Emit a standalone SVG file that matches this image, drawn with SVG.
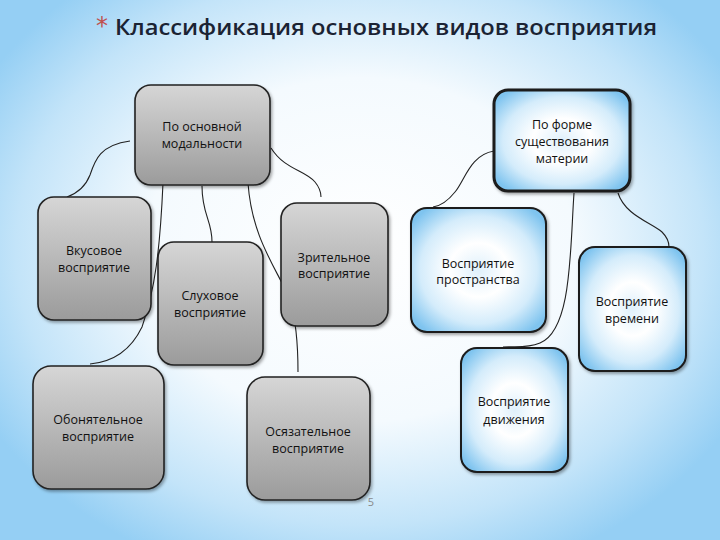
<svg xmlns="http://www.w3.org/2000/svg" width="720" height="540" viewBox="0 0 720 540">
<defs>
<radialGradient id="bg" cx="360" cy="250" r="430" gradientUnits="userSpaceOnUse" gradientTransform="translate(360 250) scale(1 0.8) translate(-360 -250)">
<stop offset="0" stop-color="#ffffff"/>
<stop offset="0.5" stop-color="#f4fafe"/>
<stop offset="0.8" stop-color="#c3e4f9"/>
<stop offset="1" stop-color="#95cff4"/>
</radialGradient>
<linearGradient id="gray" x1="0" y1="0" x2="0" y2="1">
<stop offset="0" stop-color="#d6d6d6"/>
<stop offset="1" stop-color="#9b9b9b"/>
</linearGradient>
<radialGradient id="blue" cx="0.5" cy="0.5" r="0.62">
<stop offset="0" stop-color="#dff0fb"/>
<stop offset="0.35" stop-color="#ffffff"/>
<stop offset="0.7" stop-color="#d4ecfb"/>
<stop offset="1" stop-color="#7fc4ef"/>
</radialGradient>
<filter id="sh" x="-10%" y="-10%" width="130%" height="130%">
<feDropShadow dx="1.5" dy="2" stdDeviation="1.5" flood-color="#000" flood-opacity="0.35"/>
</filter>
</defs>
<style>
.g{fill:url(#gray);stroke:#222;stroke-width:1.6;filter:url(#sh)}
.b{fill:url(#blue);stroke:#1a1a1a;stroke-width:2;filter:url(#sh)}
.t{font-family:"Open Sans","DejaVu Sans",sans-serif;font-size:12.5px;fill:#111;text-anchor:middle}
.c{fill:none;stroke:#222;stroke-width:1.1}
</style>
<rect x="0" y="0" width="720" height="540" fill="url(#bg)"/>
<text x="96" y="34" font-family="'DejaVu Sans',sans-serif" font-size="24" fill="#c0504d">*</text>
<text x="115" y="35" font-family="'Open Sans','DejaVu Sans',sans-serif" font-size="22" font-weight="600" fill="#1b2333" textLength="542" lengthAdjust="spacingAndGlyphs">Классификация основных видов восприятия</text>

<g id="connectors">
<path class="c" d="M130,141 C100,145 95,160 90,175 C85,188 75,194 67,197"/>
<path class="c" d="M163,183 C160,250 155,290 142,327 C130,352 112,362 90,364"/>
<path class="c" d="M202,186 C202,215 212,220 212,242"/>
<path class="c" d="M248,183 C252,240 278,270 290,300 C296,320 298,345 298,372"/>
<path class="c" d="M271,148 C285,170 305,170 315,182 C320,188 321,192 321,197"/>
<path class="c" d="M494,151 C470,155 465,180 455,192 C447,202 440,206 433,207"/>
<path class="c" d="M574,193 C570,250 572,330 540,343 C525,349 512,346 503,347"/>
<path class="c" d="M618,193 C625,215 650,222 662,232 C668,238 669,243 669,247"/>
</g>

<g id="n1"><rect class="g" x="135" y="85" width="135" height="100" rx="16"/>
<text class="t" x="202" y="131">По основной</text><text class="t" x="202" y="148">модальности</text></g>
<g id="n2"><rect class="g" x="38" y="197" width="113" height="123" rx="16"/>
<text class="t" x="94" y="255">Вкусовое</text><text class="t" x="94" y="272">восприятие</text></g>
<g id="n3"><rect class="g" x="158" y="242" width="105" height="123" rx="16"/>
<text class="t" x="210" y="300">Слуховое</text><text class="t" x="210" y="317">восприятие</text></g>
<g id="n4"><rect class="g" x="281" y="203" width="107" height="123" rx="16"/>
<text class="t" x="334" y="262">Зрительное</text><text class="t" x="334" y="278">восприятие</text></g>
<g id="n5"><rect class="g" x="33" y="366" width="131" height="123" rx="18"/>
<text class="t" x="98" y="424">Обонятельное</text><text class="t" x="98" y="441">восприятие</text></g>
<g id="n6"><rect class="g" x="247" y="377" width="123" height="123" rx="18"/>
<text class="t" x="308" y="436">Осязательное</text><text class="t" x="308" y="453">восприятие</text></g>

<g id="n7"><rect class="b" x="494" y="90" width="136" height="101" rx="14" style="stroke-width:3"/>
<text class="t" x="562" y="129">По форме</text><text class="t" x="562" y="146">существования</text><text class="t" x="562" y="163">материи</text></g>
<g id="n8"><rect class="b" x="411" y="208" width="135" height="124" rx="16"/>
<text class="t" x="478" y="268">Восприятие</text><text class="t" x="478" y="284">пространства</text></g>
<g id="n9"><rect class="b" x="579" y="247" width="107" height="124" rx="16"/>
<text class="t" x="632" y="306">Восприятие</text><text class="t" x="632" y="323">времени</text></g>
<g id="n10"><rect class="b" x="461" y="348" width="107" height="124" rx="16"/>
<text class="t" x="514" y="406">Восприятие</text><text class="t" x="514" y="424">движения</text></g>

<text x="371" y="506" font-family="'Open Sans','DejaVu Sans',sans-serif" font-size="11" fill="#8a8a8a" text-anchor="middle">5</text>
</svg>
